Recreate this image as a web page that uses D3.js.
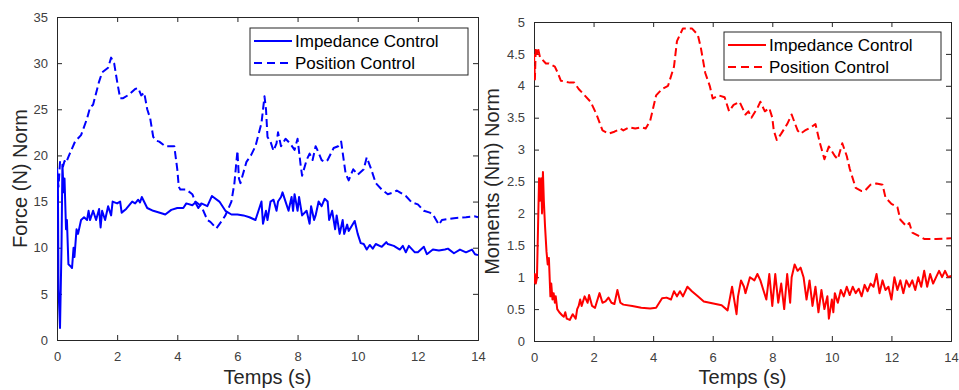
<!DOCTYPE html>
<html><head><meta charset="utf-8">
<script src="https://cdn.jsdelivr.net/npm/d3@7"></script>
<style>
body{margin:0;background:#fff;}
svg{display:block;font-family:"Liberation Sans",Arial,Helvetica,sans-serif;}
</style></head>
<body><svg id="c" width="959" height="390"></svg>
<script>
// ---------- DATA ----------
const xTicks = [0,2,4,6,8,10,12,14];
const forceTicks = [0,5,10,15,20,25,30,35];
const momentTicks = [0,0.5,1,1.5,2,2.5,3,3.5,4,4.5,5];
const seriesNames = ["Impedance Control","Position Control"];

const tForceImp = [0,0.03,0.05,0.1,0.15,0.18,0.22,0.25,0.3,0.33,0.38,0.45,0.5,0.55,0.58,0.65,0.7,0.8,0.9,1.0,1.05,1.1,1.2,1.3,1.4,1.45,1.5,1.6,1.7,1.8,1.85,2.0,2.1,2.15,2.3,2.5,2.6,2.7,2.76,2.82,3.0,3.2,3.5,3.6,3.8,4.0,4.2,4.3,4.5,4.6,4.7,4.8,5.0,5.15,5.4,5.6,5.8,6.0,6.2,6.4,6.6,6.7,6.8,6.85,6.95,7.0,7.1,7.2,7.3,7.35,7.45,7.5,7.6,7.7,7.8,7.85,7.9,8.0,8.05,8.15,8.3,8.4,8.45,8.55,8.6,8.7,8.8,8.9,9.0,9.05,9.15,9.25,9.3,9.4,9.5,9.55,9.65,9.7,9.9,10.0,10.1,10.2,10.3,10.4,10.5,10.6,10.8,10.95,11.0,11.2,11.4,11.5,11.6,11.7,11.9,12.0,12.2,12.3,12.5,12.7,12.9,13.0,13.2,13.4,13.6,13.8,13.9,14];
const forceImp = [18,17,5.5,1.3,10,19,16,17.5,12,13,8.2,8,7.8,10,9,12,11.5,13,13.3,13,14,13,14,13,14.2,12.2,14,13,14.5,13.5,15,14.8,15,13.8,14.2,15,14.8,15.2,14.9,15.5,14.3,14,13.7,13.6,14.1,14.3,14.3,14.8,14.6,14.9,14.3,14.8,14.5,15.6,15,14,13.6,13.6,13.5,13.3,13,14,15,12.6,14,13,15,15.2,14,15,15.5,16,15,14,15.5,14,15.8,14,15.5,13.5,14,12.6,14.5,13,13.5,15,14.5,15.3,15,13,14,12,13.5,11.5,13,11.5,12.5,11.8,12.9,11.5,10.5,10.4,9.8,10.3,9.9,10.4,10.1,10.6,10.4,10.2,9.8,10.2,9.5,10.2,9.5,9.5,10.1,9.3,9.8,9.7,9.8,9.9,9.4,9.8,9.5,9.8,9.3,9.2];

const tForcePos = [0,0.05,0.1,0.2,0.25,0.3,0.4,0.6,0.8,1.0,1.1,1.2,1.4,1.5,1.7,1.8,1.9,2.0,2.1,2.2,2.4,2.6,2.7,2.8,2.9,3.0,3.1,3.2,3.3,3.4,3.6,3.8,3.9,4.0,4.05,4.1,4.3,4.5,4.6,4.8,5.0,5.1,5.3,5.5,5.6,5.8,5.9,6.0,6.05,6.1,6.3,6.45,6.6,6.8,6.9,6.95,7.0,7.1,7.2,7.3,7.35,7.45,7.6,7.75,7.9,8.0,8.1,8.15,8.3,8.4,8.5,8.6,8.7,8.8,8.9,9.0,9.2,9.35,9.45,9.5,9.6,9.7,9.85,10.0,10.2,10.3,10.45,10.6,10.8,11.0,11.2,11.3,11.4,11.6,11.8,12.0,12.2,12.4,12.5,12.7,12.8,13.0,13.2,13.6,13.9,14];
const forcePos = [18.6,16.6,19.3,18.8,19.4,19.2,20,21.5,22.2,24,25.2,25.5,28,29,29.5,30.6,30,28,26.2,26.2,26.6,27.2,27.3,26.5,26.8,25,24,22,21.6,21.5,21,21,21,18.5,16.6,16.3,16.3,15.8,15,14.5,13,12.8,12.1,13,13.5,15,17,20.5,17.5,17,19.3,20,21,23.5,26.4,25,22,21.5,20.5,21.3,22.5,21,21.8,21.3,20.6,21.8,19,17.8,19.5,20.2,19.5,21,20.3,19.5,19.3,19.5,20.8,21,21.5,20.3,18,17.3,18.5,17.9,18.5,19.8,18.5,17,16.3,15.8,16,16.2,16,15.6,14.9,14.7,14,13.8,13.6,12.5,13,13.1,13.2,13.3,13.4,13.3];

const tMomImp = [0,0.03,0.06,0.1,0.17,0.2,0.24,0.27,0.3,0.33,0.37,0.42,0.46,0.5,0.55,0.58,0.62,0.66,0.7,0.73,0.78,0.85,0.95,1.0,1.05,1.1,1.2,1.3,1.4,1.45,1.5,1.55,1.6,1.7,1.8,1.85,1.95,2.05,2.1,2.2,2.3,2.4,2.5,2.6,2.7,2.8,2.9,3.0,3.3,3.6,3.9,4.1,4.3,4.45,4.6,4.7,4.8,4.9,5.0,5.15,5.3,5.5,5.7,5.9,6.1,6.3,6.5,6.65,6.8,6.85,6.95,7.05,7.1,7.25,7.4,7.5,7.6,7.7,7.8,7.9,8.0,8.1,8.2,8.3,8.4,8.5,8.6,8.65,8.75,8.85,8.95,9.05,9.15,9.25,9.35,9.45,9.55,9.65,9.75,9.85,9.9,10.0,10.05,10.1,10.2,10.3,10.4,10.5,10.6,10.7,10.8,10.9,11.0,11.1,11.2,11.3,11.4,11.5,11.6,11.7,11.8,11.9,12.0,12.1,12.2,12.3,12.4,12.5,12.6,12.7,12.8,12.9,13.0,13.1,13.2,13.3,13.4,13.5,13.6,13.7,13.8,13.9,14];
const momImp = [0.9,1.05,0.9,1.0,2.55,2.2,2.55,2.0,2.65,2.2,1.8,1.4,1.2,1.3,0.7,0.9,0.65,0.75,0.6,0.7,0.5,0.45,0.4,0.38,0.45,0.35,0.33,0.42,0.35,0.5,0.55,0.65,0.55,0.7,0.6,0.72,0.55,0.52,0.6,0.75,0.6,0.62,0.68,0.6,0.58,0.8,0.6,0.57,0.55,0.52,0.51,0.52,0.67,0.68,0.65,0.78,0.7,0.78,0.7,0.85,0.78,0.7,0.62,0.6,0.58,0.56,0.48,0.85,0.42,0.7,0.95,0.85,0.75,1.0,0.95,1.05,0.95,0.8,0.65,1.05,0.55,1.05,0.6,0.9,0.5,1.05,0.6,1.0,1.2,1.1,1.15,1.0,0.65,0.95,0.55,0.85,0.45,0.8,0.5,0.7,0.35,0.65,0.45,0.75,0.6,0.8,0.7,0.85,0.72,0.85,0.75,0.82,0.7,0.88,0.78,0.9,0.85,1.05,0.75,0.95,0.8,0.85,0.65,1.0,0.8,0.95,0.75,0.95,0.85,0.95,0.8,1.0,0.85,1.1,0.85,1.05,0.9,1.0,1.1,1.0,1.1,1.0,1.02];

const tMomPos = [0,0.03,0.06,0.1,0.13,0.2,0.4,0.5,0.7,0.8,0.9,1.2,1.35,1.5,1.7,1.9,2.1,2.3,2.5,2.7,2.9,3.0,3.2,3.4,3.6,3.75,3.9,4.1,4.3,4.5,4.7,4.8,5.0,5.3,5.5,5.6,5.75,5.9,6.0,6.2,6.4,6.55,6.7,6.9,7.1,7.2,7.3,7.5,7.6,7.75,7.9,8.0,8.05,8.15,8.3,8.5,8.65,8.85,8.95,9.1,9.3,9.45,9.6,9.75,9.9,10.1,10.2,10.35,10.5,10.6,10.8,11.0,11.1,11.3,11.5,11.7,11.8,12.0,12.2,12.3,12.5,12.6,12.7,12.9,13.1,13.5,14];
const momPos = [4.5,4.1,4.6,4.5,4.6,4.45,4.35,4.35,4.3,4.2,4.08,4.05,4.05,3.95,3.85,3.75,3.55,3.3,3.25,3.28,3.33,3.3,3.35,3.33,3.35,3.33,3.45,3.85,3.95,4.0,4.3,4.7,4.9,4.9,4.8,4.6,4.2,4.0,3.8,3.85,3.82,3.6,3.7,3.75,3.55,3.6,3.5,3.65,3.75,3.6,3.65,3.5,3.3,3.15,3.25,3.4,3.55,3.3,3.25,3.3,3.35,3.4,3.1,2.85,3.05,2.9,2.85,3.1,2.9,2.7,2.4,2.35,2.35,2.45,2.47,2.45,2.25,2.15,2.1,1.9,1.8,1.85,1.7,1.65,1.6,1.6,1.61];

// ---------- DRAW ----------
const svg = d3.select("#c");
const axisColor = "#262626";
const tickTextColor = "#404040";

function panel(opt){
  const {left,right,top,bottom,yDomain,yTicks,yFmt,yLabel,yLabelOff,color,imp,pos,legend} = opt;
  const x = d3.scaleLinear().domain([0,14]).range([left,right]);
  const y = d3.scaleLinear().domain(yDomain).range([bottom,top]);
  const g = svg.append("g");
  const tl = 5;
  const axB = g.append("g").attr("transform",`translate(0,${bottom})`)
    .call(d3.axisBottom(x).tickValues(xTicks).tickSize(-tl).tickPadding(12).tickFormat(d3.format("d")));
  const axT = g.append("g").attr("transform",`translate(0,${top})`)
    .call(d3.axisTop(x).tickValues(xTicks).tickSize(-tl).tickFormat(""));
  const axL = g.append("g").attr("transform",`translate(${left},0)`)
    .call(d3.axisLeft(y).tickValues(yTicks).tickSize(-tl).tickPadding(9).tickFormat(yFmt));
  const axR = g.append("g").attr("transform",`translate(${right},0)`)
    .call(d3.axisRight(y).tickValues(yTicks).tickSize(-tl).tickFormat(""));
  [axB,axT,axL,axR].forEach(a=>{
    a.select(".domain").attr("stroke",axisColor).attr("stroke-width",1);
    a.selectAll(".tick line").attr("stroke",axisColor);
    a.selectAll("text").attr("fill",tickTextColor).style("font-size","13px")
      .style("font-family",'"Liberation Sans",Arial,sans-serif');
  });
  const line = d3.line().x(d=>x(d[0])).y(d=>y(d[1]));
  const clipId = "clip"+left;
  g.append("clipPath").attr("id",clipId).append("rect")
    .attr("x",left).attr("y",top-2).attr("width",right-left+2).attr("height",bottom-top+3);
  const lg = g.append("g").attr("clip-path",`url(#${clipId})`);
  lg.append("path").datum(d3.zip(pos[0],pos[1])).attr("d",line)
    .attr("fill","none").attr("stroke",color).attr("stroke-width",2)
    .attr("stroke-dasharray","8,4").attr("stroke-linejoin","round");
  lg.append("path").datum(d3.zip(imp[0],imp[1])).attr("d",line)
    .attr("fill","none").attr("stroke",color).attr("stroke-width",2).attr("stroke-linejoin","round");
  g.append("text").attr("x",(left+right)/2).attr("y",384).attr("text-anchor","middle")
    .attr("fill",axisColor).style("font-size","20px").text("Temps (s)");
  g.append("text").attr("transform",`translate(${left-yLabelOff},${(top+bottom)/2}) rotate(-90)`)
    .attr("text-anchor","middle").attr("fill",axisColor).style("font-size","20px").text(yLabel);
  const L = legend;
  const lgd = g.append("g");
  lgd.append("rect").attr("x",L.x).attr("y",L.y).attr("width",L.w).attr("height",L.h)
    .attr("fill","#fff").attr("stroke",axisColor).attr("stroke-width",1);
  [[0,null],[1,"8,5"]].forEach(([i,dash])=>{
    const cy = L.y + 13 + i*22;
    const ln = lgd.append("line").attr("x1",L.x+4).attr("x2",L.x+42).attr("y1",cy).attr("y2",cy)
      .attr("stroke",color).attr("stroke-width",2);
    if(dash) ln.attr("stroke-dasharray",dash);
    lgd.append("text").attr("x",L.x+45).attr("y",cy+6).attr("fill","#000")
      .style("font-size","17px").text(seriesNames[i]);
  });
}

panel({left:57,right:478,top:17,bottom:340,yDomain:[0,35],yTicks:forceTicks,yFmt:d3.format("d"),
  yLabel:"Force (N) Norm",yLabelOff:30,color:"#0000ff",imp:[tForceImp,forceImp],pos:[tForcePos,forcePos],
  legend:{x:250,y:28,w:218,h:47}});
panel({left:534,right:951,top:22,bottom:341,yDomain:[0,5],yTicks:momentTicks,yFmt:d=>String(d),
  yLabel:"Moments (Nm) Norm",yLabelOff:35,color:"#ff0000",imp:[tMomImp,momImp],pos:[tMomPos,momPos],
  legend:{x:724,y:32,w:217,h:48}});
</script></body></html>
